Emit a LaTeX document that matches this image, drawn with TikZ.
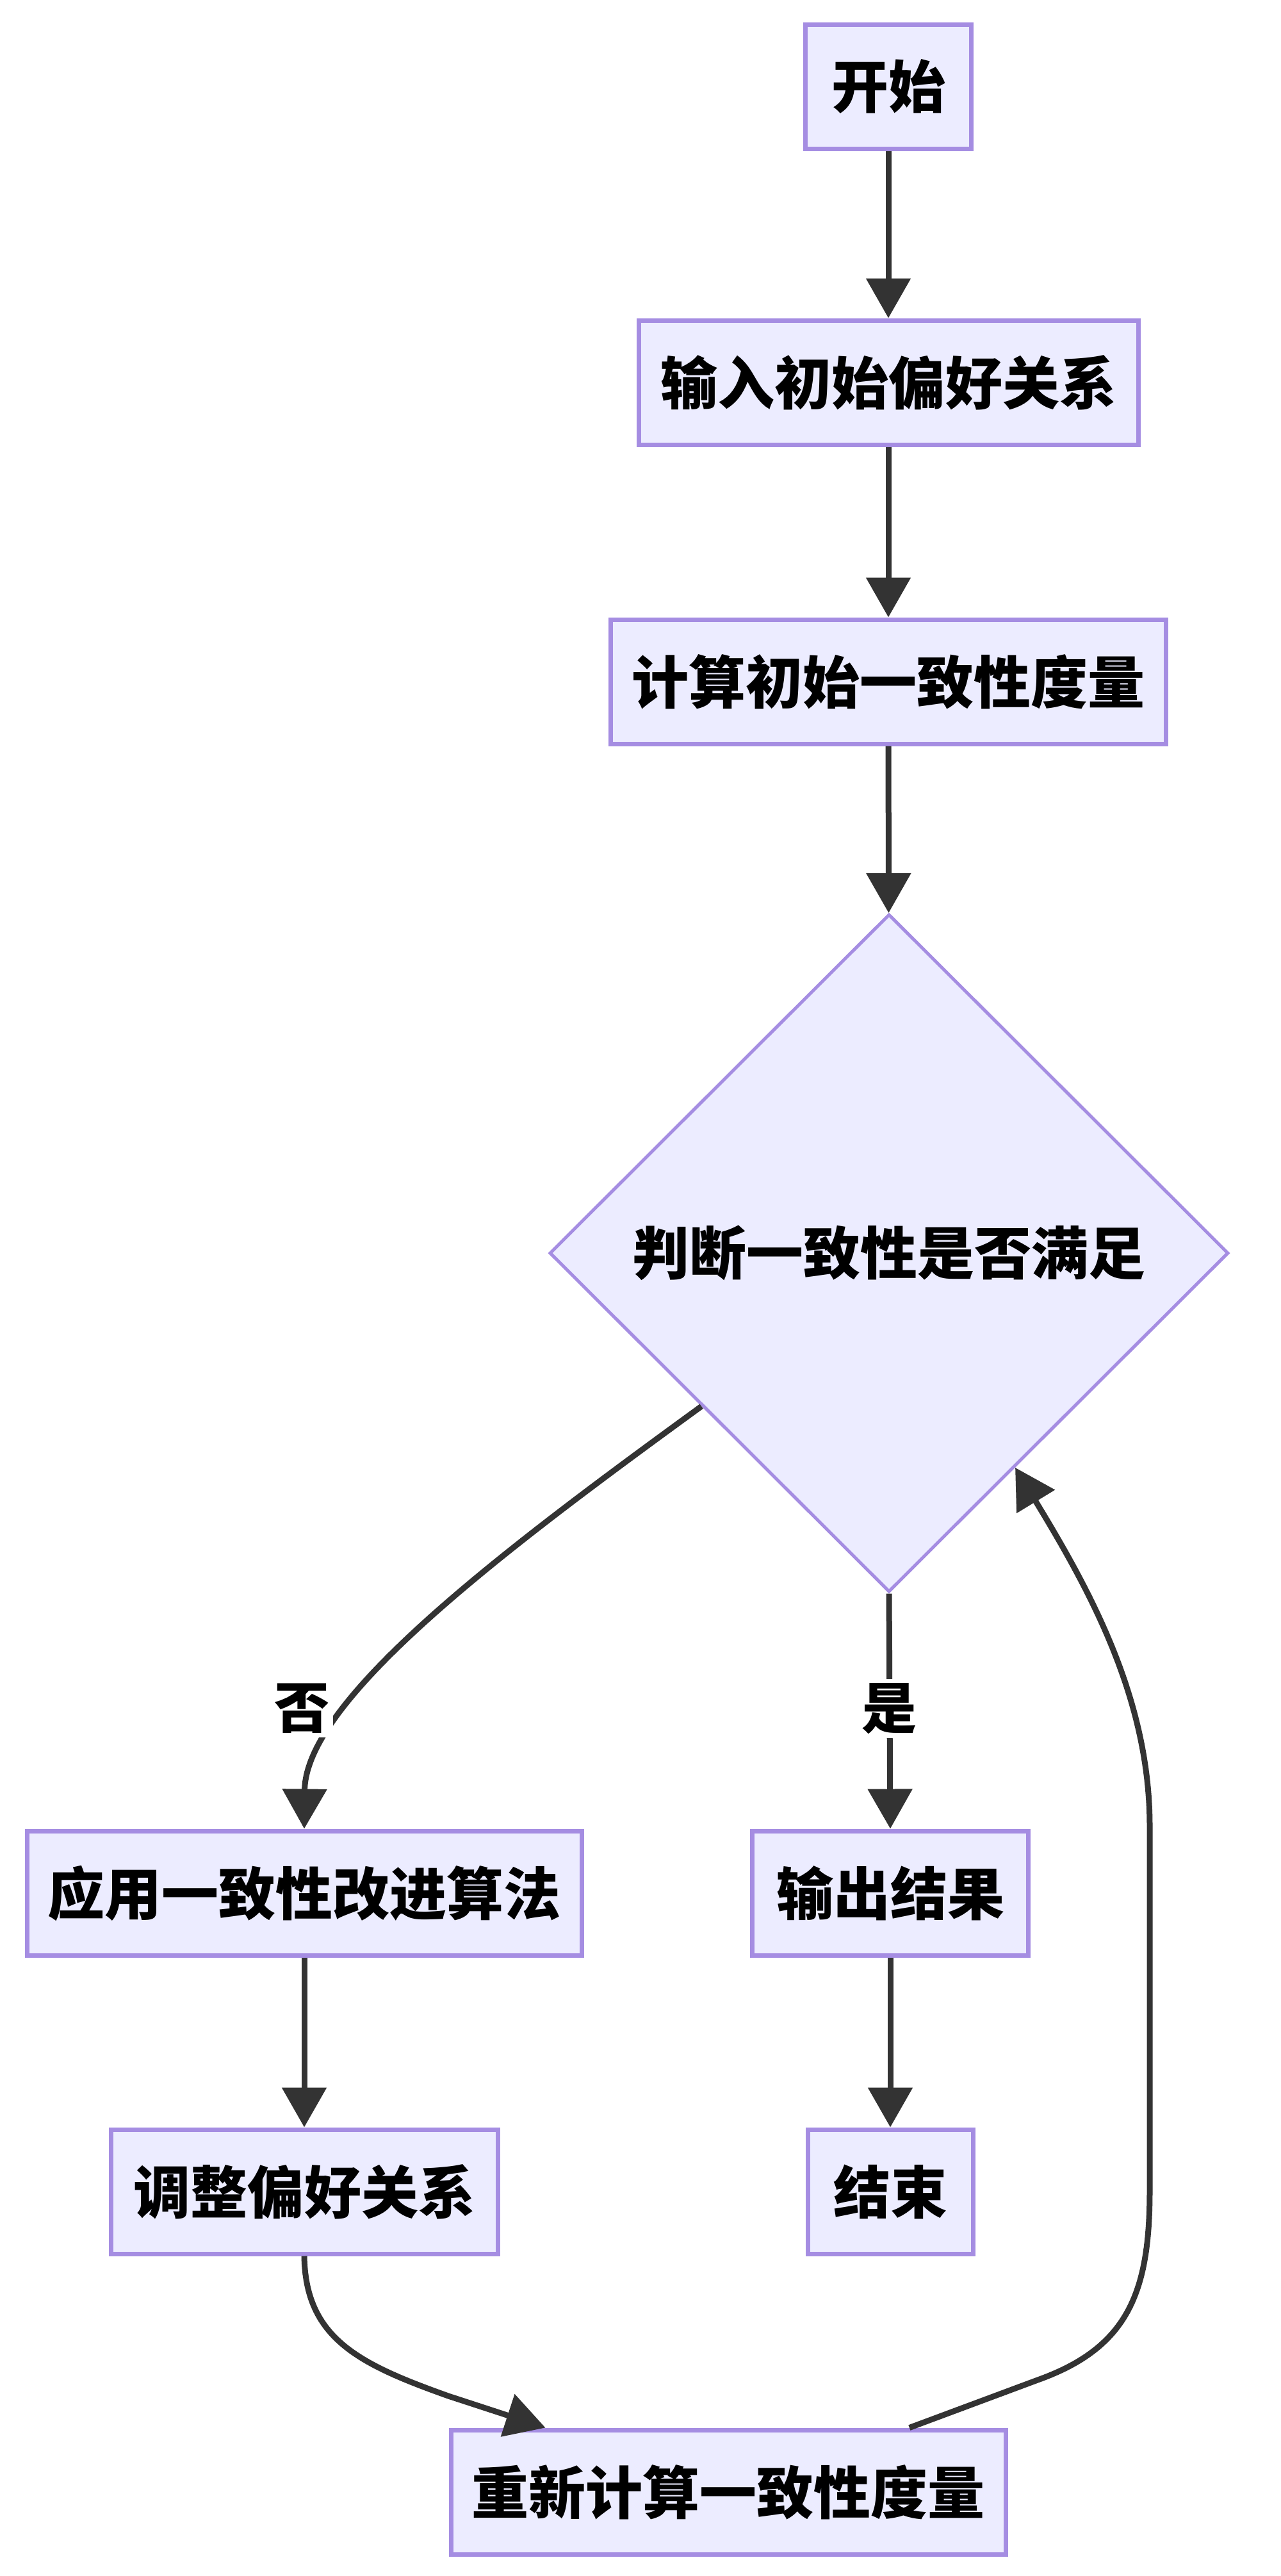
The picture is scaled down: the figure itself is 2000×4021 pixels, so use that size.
\documentclass[tikz,border=0pt]{standalone}
\usepackage{fontspec}
\setmainfont{Noto Sans CJK SC}
\usetikzlibrary{shapes.geometric,arrows.meta,calc}
\definecolor{boxfill}{HTML}{ECECFF}
\definecolor{boxborder}{HTML}{A58DE2}
\definecolor{edgecol}{HTML}{333333}
\tikzset{
  box/.style={draw=boxborder, line width=3.5pt, fill=boxfill, minimum height=97pt, inner sep=0pt, font=\fontsize{44.5}{50}\selectfont\bfseries},
  dec/.style={diamond, draw=boxborder, line width=2.5pt, fill=boxfill, minimum width=530pt, minimum height=529pt, inner sep=0pt, font=\fontsize{44.5}{50}\selectfont\bfseries},
  edge/.style={draw=edgecol, line width=4.5pt, -{Triangle[length=31pt,width=34pt]}},
  lbl/.style={fill=white, inner sep=3pt, font=\fontsize{43}{50}\selectfont\bfseries}
}
\begin{document}
\begin{tikzpicture}[x=0.5pt,y=-0.5pt]
\fill[white] (0,0) rectangle (2000,4021);
\useasboundingbox (0,0) rectangle (2000,4021);
% nodes
\node[box, minimum width=129.5pt] (start) at (1387,135) {开始};
\node[box, minimum width=390pt] (inp) at (1387,597) {输入初始偏好关系};
\node[box, minimum width=433.5pt] (calc) at (1387,1064) {计算初始一致性度量};
\node[dec] (dia) at (1388,1956) {判断一致性是否满足};
\node[box, minimum width=433pt] (app) at (475,2955) {应用一致性改进算法};
\node[box, minimum width=215.5pt] (out) at (1390,2955) {输出结果};
\node[box, minimum width=302pt] (adj) at (475,3421) {调整偏好关系};
\node[box, minimum width=129pt] (fin) at (1390,3421) {结束};
\node[box, minimum width=433pt] (rec) at (1137,3890) {重新计算一致性度量};
% edges
\draw[edge] (start) -- (inp);
\draw[edge] (inp) -- (calc);
\draw[edge] (calc) -- (dia);
\draw[edge] (dia.south) -- (out.north);
\draw[edge] (out) -- (fin);
\draw[edge] (app) -- (adj);
\draw[edge] ($(dia.west)!0.45!(dia.south)$) .. controls (800,2410) and (477,2650) .. (app.north);
\draw[edge] (adj.south) .. controls (477,3650) and (560,3690) .. (700,3740) -- ($(rec.north west)!0.173!(rec.north east)$);
\draw[edge] ($(rec.north west)!0.824!(rec.north east)$) -- (1620,3715) .. controls (1760,3665) and (1795,3580) .. (1795,3420) -- (1795,2850) .. controls (1795,2650) and (1700,2480) .. ($(dia.south)!0.37!(dia.east)$);
% labels
\node[lbl] (no) at (471,2667) {否};
\node[lbl] (yes) at (1388,2667) {是};
\end{tikzpicture}
\end{document}
